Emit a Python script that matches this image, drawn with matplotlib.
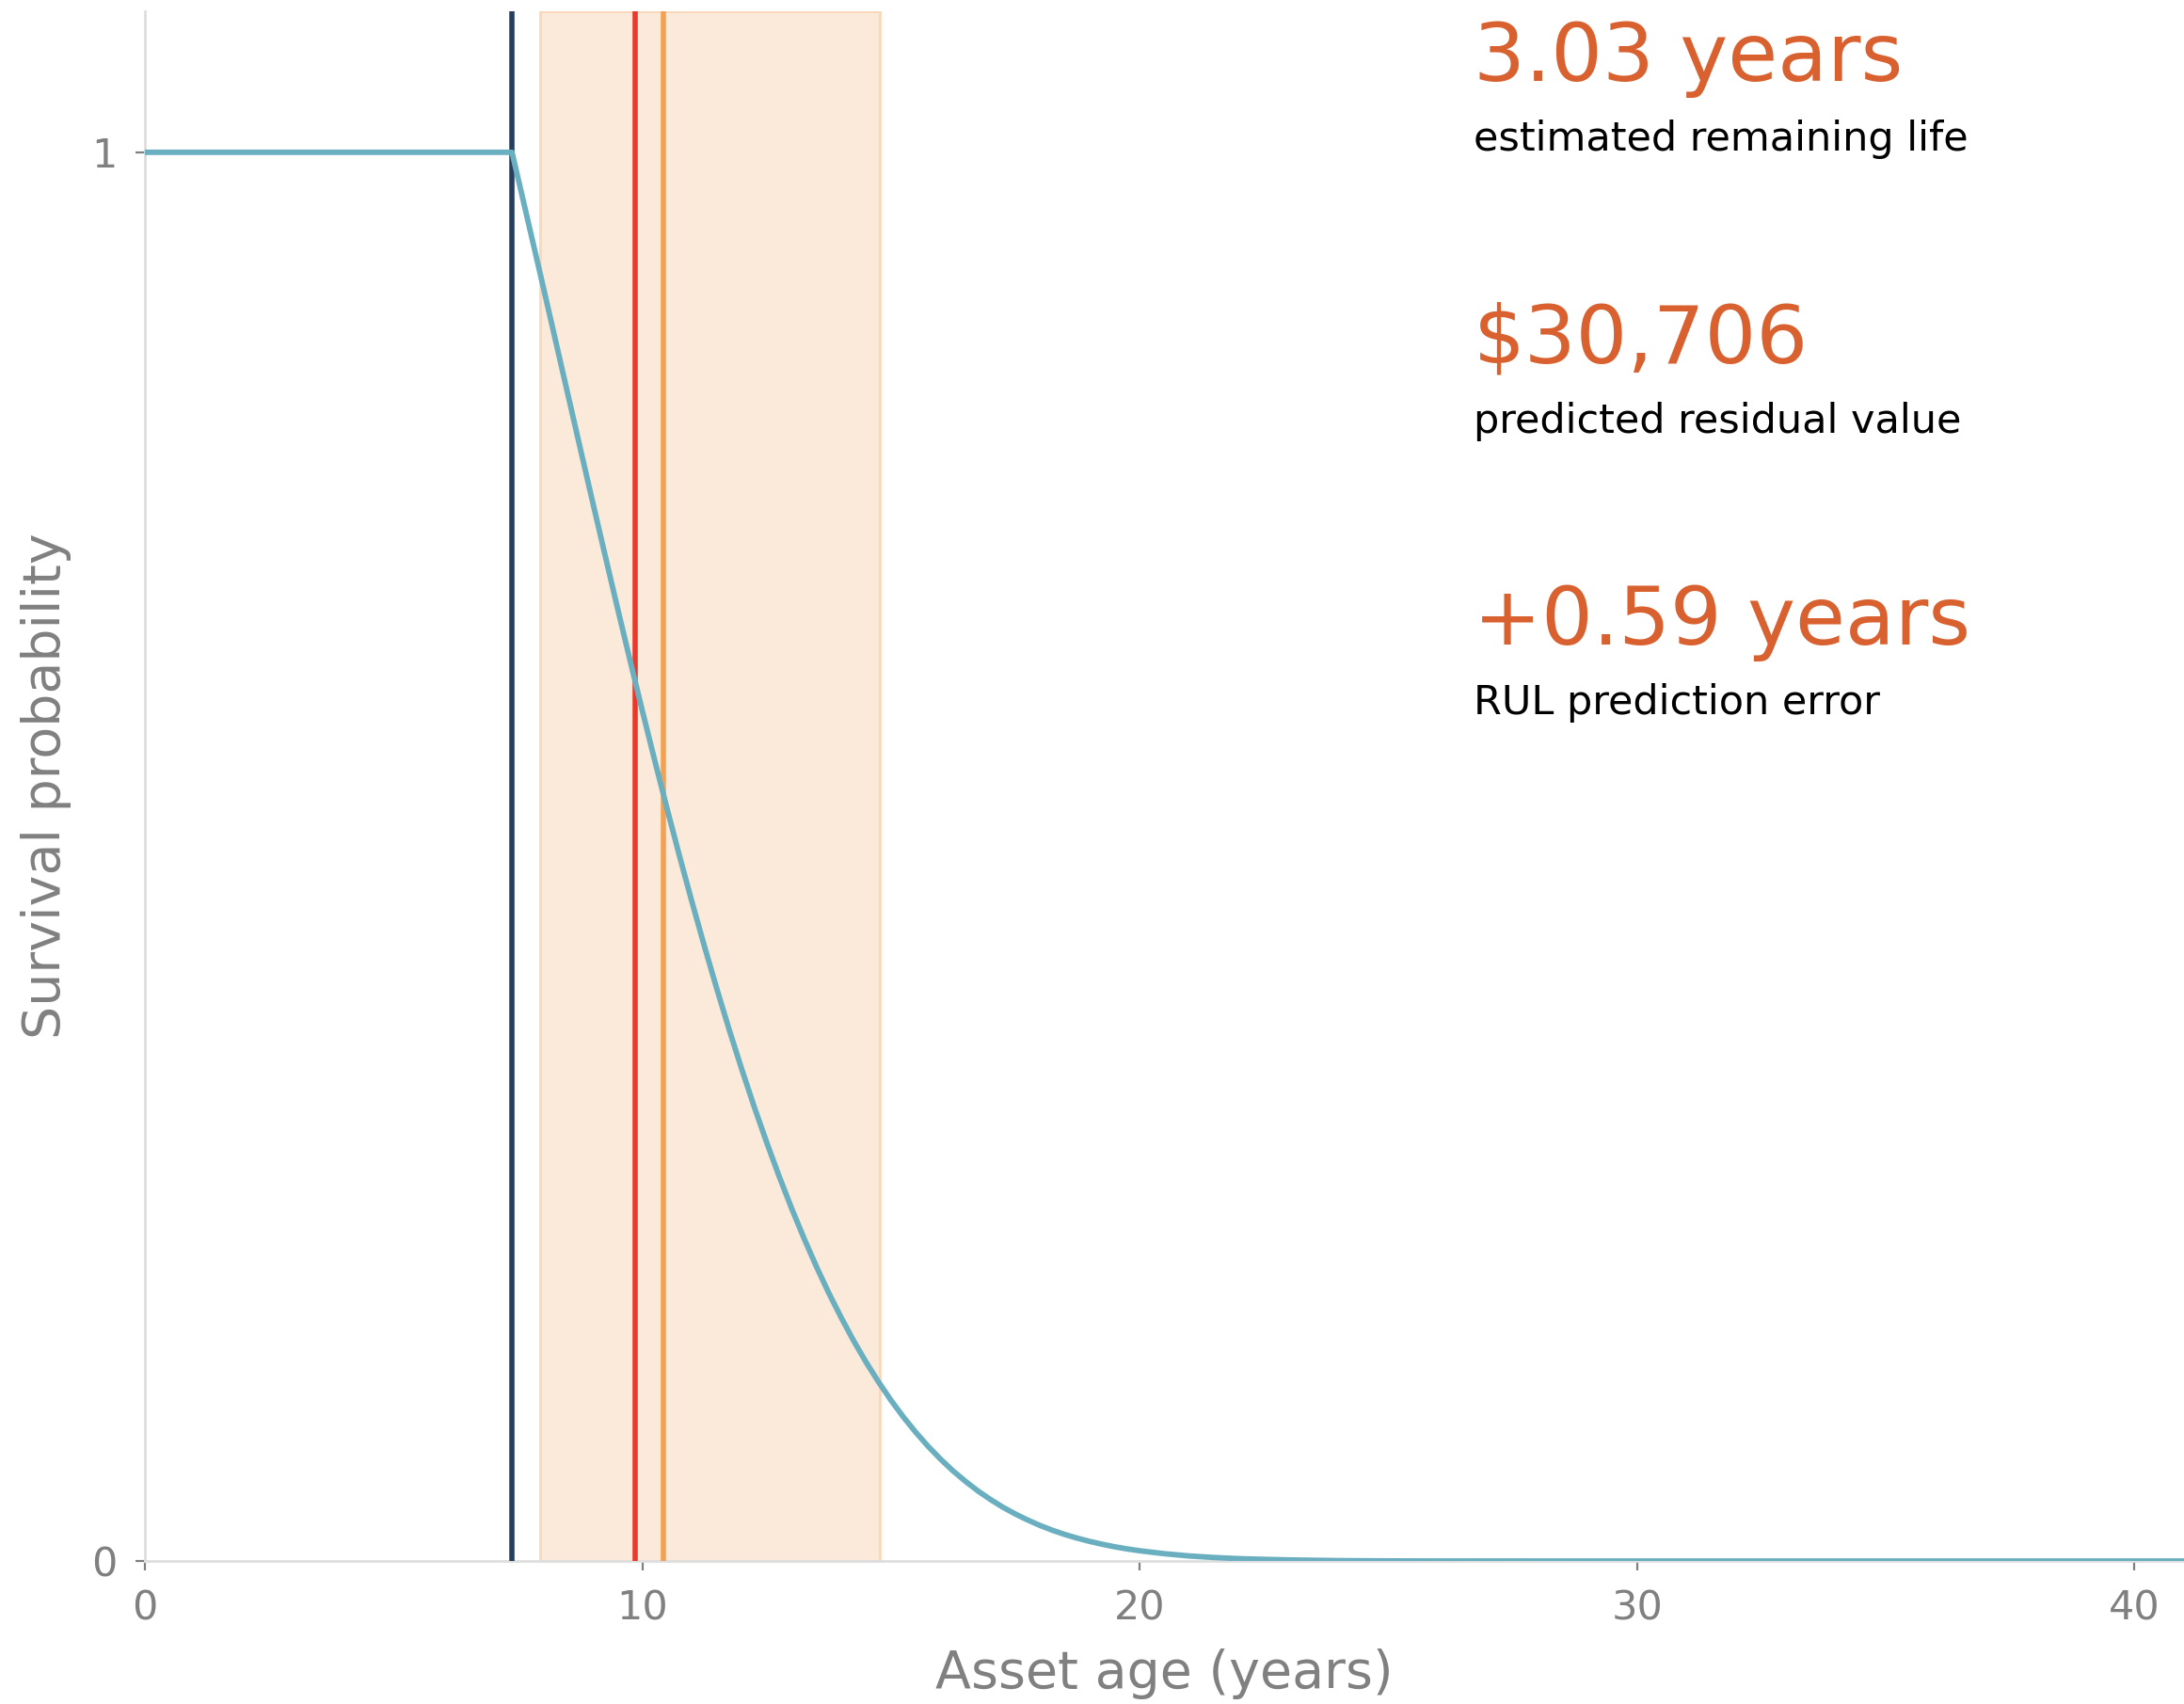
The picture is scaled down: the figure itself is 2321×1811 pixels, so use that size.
import numpy as np
import matplotlib
matplotlib.use("Agg")
import matplotlib.pyplot as plt

# survival curve (age in years, survival probability)
age = [0.0, 7.38, 8.0, 8.25, 8.5, 8.75, 9.0, 9.25, 9.5, 9.75, 10.0, 10.25,
       10.5, 10.75, 11.0, 11.25, 11.5, 11.75, 12.0, 12.25, 12.5, 12.75, 13.0,
       13.25, 13.5, 13.75, 14.0, 14.25, 14.5, 14.75, 15.0, 15.25, 15.5, 15.75,
       16.0, 16.25, 16.5, 16.75, 17.0, 17.25, 17.5, 17.75, 18.0, 18.25, 18.5,
       18.75, 19.0, 19.25, 19.5, 19.75, 20.0, 20.5, 21.0, 21.5, 22.0, 22.5,
       23.0, 24.0, 25.0, 26.0, 30.0, 41.0]
survival = [1.0, 1.0, 0.9056, 0.8671, 0.8286, 0.7901, 0.7519, 0.7141, 0.6766,
            0.6398, 0.6036, 0.5682, 0.5337, 0.5001, 0.4676, 0.4362, 0.4059,
            0.3768, 0.3490, 0.3224, 0.2972, 0.2732, 0.2505, 0.2292, 0.2090,
            0.1902, 0.1727, 0.1563, 0.1411, 0.1271, 0.1141, 0.1022, 0.0913,
            0.0813, 0.0722, 0.0639, 0.0565, 0.0497, 0.0437, 0.0382, 0.0334,
            0.0291, 0.0252, 0.0218, 0.0188, 0.0162, 0.0139, 0.0119, 0.0101,
            0.0086, 0.0073, 0.0052, 0.0036, 0.0025, 0.0017, 0.0012, 0.0008,
            0.0003, 0.0001, 0.00005, 0.0, 0.0]

current_age = 7.38
actual_failure = 9.85
predicted_failure = 10.43
interval = (7.94, 14.77)

x_ticks = [0, 10, 20, 30, 40]
y_ticks = [0, 1]

headlines = ["3.03 years", "$30,706", "+0.59 years"]
captions = ["estimated remaining life", "predicted residual value", "RUL prediction error"]

grey = "#808080"

fig = plt.figure(figsize=(11.605, 9.055), dpi=200)
ax = fig.add_axes([0.0664, 0.0839, 0.9336, 0.9094])

ax.axvspan(interval[0], interval[1], facecolor="#fbe9d9", edgecolor="#f8d8bb",
           linewidth=1.0, zorder=1)
ax.axvline(current_age, color="#253d5e", linewidth=2.0, zorder=3)
ax.axvline(actual_failure, color="#e8392a", linewidth=2.0, zorder=3)
ax.axvline(predicted_failure, color="#f3a154", linewidth=2.0, zorder=3)
ax.plot(age, survival, color="#6aafbf", linewidth=2.1, zorder=4,
        solid_joinstyle="round")

ax.set_xlim(0, 41)
ax.set_ylim(0, 1.1)
ax.set_xticks(x_ticks)
ax.set_yticks(y_ticks)

for side in ["top", "right"]:
    ax.spines[side].set_visible(False)
for side in ["left", "bottom"]:
    ax.spines[side].set_color("#dedede")
    ax.spines[side].set_linewidth(1.0)

ax.tick_params(colors=grey, labelsize=15.5, length=3.5, width=0.8, pad=7)
ax.set_xlabel("Asset age (years)", fontsize=20, color=grey, labelpad=8)
ax.set_ylabel("Survival probability", fontsize=20, color=grey)
ax.yaxis.set_label_coords(-0.036, 0.5)

# summary figures on the right
left = 1566 / 2321
head_base = [86, 385, 685]
cap_base = [160, 460, 759]
for h, c, hb, cb in zip(headlines, captions, head_base, cap_base):
    fig.text(left, 1 - hb / 1811, h, fontsize=31, color="#d9602f", va="baseline")
    fig.text(left, 1 - cb / 1811, c, fontsize=15.5, color="black", va="baseline")

fig.savefig("out.png", dpi=200)
